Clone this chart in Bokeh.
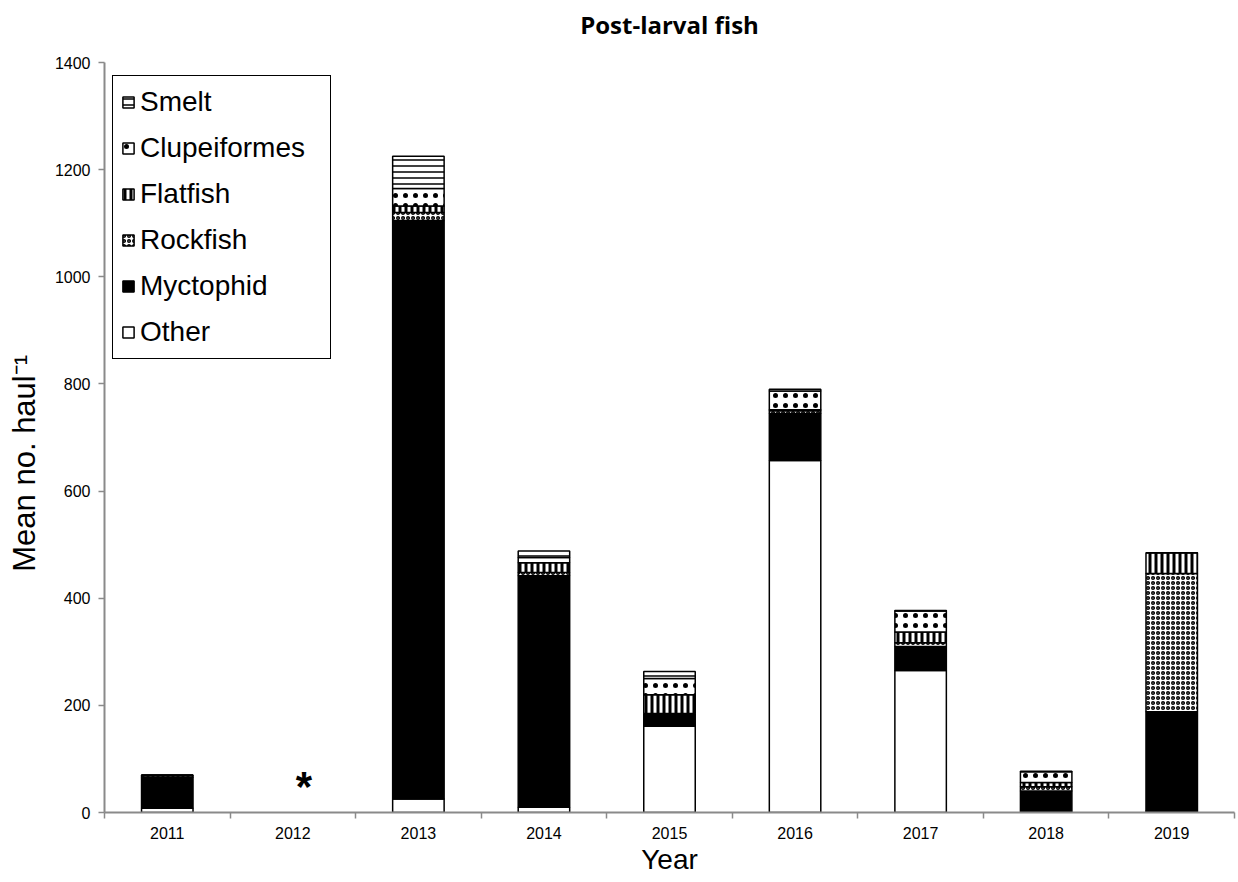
from bokeh.plotting import figure
from bokeh.models import ColumnDataSource, FixedTicker, Legend, LegendItem, Range1d, Title
from bokeh.core.properties import value
from bokeh.embed import file_html
from bokeh.resources import INLINE

nan = float("nan")

years = ["2011", "2012", "2013", "2014", "2015", "2016", "2017", "2018", "2019"]
no_data_years = ["2012"]

other     = [8,   nan, 25,   10,  161, 657, 265, 0,  3]
myctophid = [58,  nan, 1080, 432, 24,  88,  45,  40, 185]
rockfish  = [3,   nan, 15,   6,   0,   5,   7,   8,  258]
flatfish  = [0,   nan, 12,   18,  35,  2,   20,  8,  39]
clupe     = [1,   nan, 33,   10,  30,  35,  39,  20, 0]
smelt     = [0,   nan, 60,   12,  13,  3,   1,   1,  0]

series_names = ["Other", "Myctophid", "Rockfish", "Flatfish", "Clupeiformes", "Smelt"]
fields = ["other", "myctophid", "rockfish", "flatfish", "clupe", "smelt"]

xs = list(range(1, len(years) + 1))
src = ColumnDataSource(dict(x=xs, other=other, myctophid=myctophid, rockfish=rockfish,
                            flatfish=flatfish, clupe=clupe, smelt=smelt))

FONT = "Liberation Sans"
AXIS_COLOR = "#8a8a8a"

p = figure(frame_width=1130, frame_height=750, output_backend="svg", toolbar_location=None,
           x_range=Range1d(0.5, len(years) + 0.5), y_range=Range1d(0, 1400),
           min_border_left=104, min_border_right=4, min_border_top=62, min_border_bottom=62)
p.outline_line_color = None
p.xgrid.visible = False
p.ygrid.visible = False

renderers = p.vbar_stack(
    fields, x="x", width=0.41, source=src,
    fill_color=["white", "black", "white", "white", "white", "white"],
    line_color="black", line_width=1.5,
    hatch_pattern=[None, None, "ring", "vertical_line", "dot", "horizontal_line"],
    hatch_color="black",
    hatch_scale=[6, 6, 5, 6, 10, 6],
    hatch_weight=[1, 1, 1.5, 3, 1, 1.5],
)

items = []
for i in reversed(range(len(fields))):
    items.append(LegendItem(label=series_names[i], renderers=[renderers[i]]))
legend = Legend(items=items, location=(8, 453))
legend.border_line_color = "black"
legend.border_line_width = 1.5
legend.border_line_alpha = 1
legend.padding = 8
legend.margin = 0
legend.spacing = 10
legend.label_height = 36
legend.label_width = 182
legend.glyph_width = 14
legend.glyph_height = 14
legend.label_standoff = 5
legend.label_text_font = FONT
legend.label_text_font_size = "28px"
legend.label_text_color = "black"
legend.background_fill_alpha = 1
p.add_layout(legend)

# no data marker
star_x = [years.index(y) + 1 for y in no_data_years]
p.text(x=star_x, y=[49] * len(star_x), text=["*"] * len(star_x), x_offset=11,
       text_font=value(FONT), text_font_style="bold", text_font_size="42px",
       text_align="center", text_baseline="alphabetic", text_color="black")

# title: a small spacer next to the frame, the real title above it
p.title.text = ""
p.title.visible = False
p.add_layout(Title(text=" ", text_font_size="4px"), "above")
p.add_layout(Title(text="Post-larval fish", align="center", text_font="Open Sans",
                   text_font_style="bold", text_font_size="24px", text_color="black"), "above")

# x axis
xa = p.xaxis[0]
xa.ticker = FixedTicker(ticks=xs, minor_ticks=[x - 0.5 for x in xs] + [len(xs) + 0.5])
xa.major_label_overrides = {x: y for x, y in zip(xs, years)}
xa.major_tick_out = 0
xa.major_tick_in = 0
xa.minor_tick_out = 6
xa.minor_tick_in = 0
xa.minor_tick_line_color = AXIS_COLOR
xa.minor_tick_line_width = 1.5
xa.axis_line_color = AXIS_COLOR
xa.axis_line_width = 2
xa.major_label_text_font = FONT
xa.major_label_text_font_size = "16px"
xa.major_label_text_color = "black"
xa.major_label_standoff = 8
xa.axis_label = "Year"
xa.axis_label_text_font = FONT
xa.axis_label_text_font_size = "28px"
xa.axis_label_text_font_style = "normal"
xa.axis_label_text_color = "black"
xa.axis_label_standoff = 2

# y axis
ya = p.yaxis[0]
ya.ticker = FixedTicker(ticks=list(range(0, 1401, 200)), minor_ticks=[])
ya.major_tick_out = 6
ya.major_tick_in = 0
ya.major_tick_line_color = AXIS_COLOR
ya.major_tick_line_width = 1.5
ya.axis_line_color = AXIS_COLOR
ya.axis_line_width = 2
ya.major_label_text_font = FONT
ya.major_label_text_font_size = "16px"
ya.major_label_text_color = "black"
ya.major_label_standoff = 8
ya.axis_label = "Mean no. haul\u207b\u00b9" + "\u00a0" * 6
ya.axis_label_text_font = FONT
ya.axis_label_text_font_size = "31px"
ya.axis_label_text_font_style = "normal"
ya.axis_label_text_color = "black"
ya.axis_label_standoff = 10

open("out.html", "w").write(file_html(p, INLINE))
